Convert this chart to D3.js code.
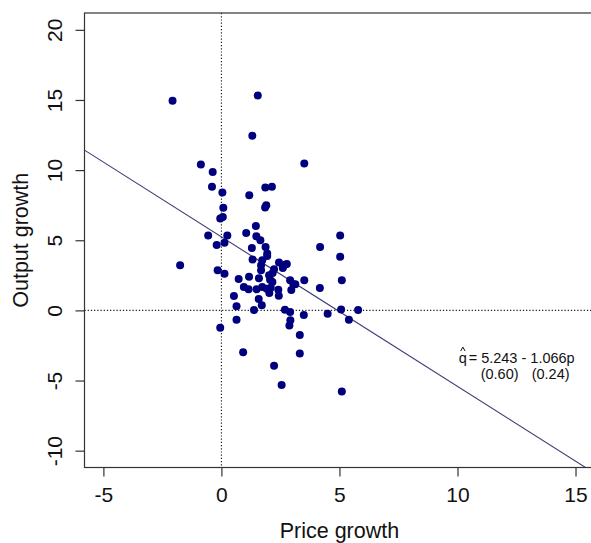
<!DOCTYPE html>
<html>
<head>
<meta charset="utf-8">
<script src="https://cdn.jsdelivr.net/npm/d3@7"></script>
<style>
  body { margin: 0; background: #fff; }
  svg { font-family: "Liberation Sans", Arial, sans-serif; }
</style>
</head>
<body>
<div id="graph"></div>
<script>
// price growth (x) and output growth (y)
let priceGrowth = [-2.07, 1.54, 1.31, 3.51, -0.87, -0.37, -0.40, 0.04, 1.18, 1.86,
  2.14, 0.08, -0.05, 0.06, 1.85, 1.90, 1.46, -0.56, 0.25, 1.05,
  1.48, 1.65, -0.20, 0.13, 1.29, 1.87, 1.94, 1.94, 5.03, 4.18,
  5.03, 1.32, 1.73, 1.68, 2.44, 2.69, 2.77, 2.60, -1.75, -0.16,
  0.13, 1.68, 2.23, 2.17, 0.73, 1.17, 1.59, 2.02, 2.06, 2.16,
  2.91, 3.05, 3.13, 3.51, 4.17, 5.10, 0.95, 1.15, 1.49, 1.73,
  1.92, 2.09, 2.03, 2.41, 2.43, 2.96, 0.53, 1.58, 0.64, 1.71,
  1.38, 2.69, 2.91, 3.49, 4.50, 5.07, 5.79, 5.40, 0.64, 2.92,
  2.88, -0.05, 3.32, 0.92, 3.32, 2.23, 2.55, 5.10];

let outputGrowth = [14.95, 15.31, 12.45, 10.48, 10.40, 9.86, 8.81, 8.41, 8.21, 8.76,
  8.81, 7.31, 6.55, 6.65, 7.34, 7.50, 6.02, 5.33, 5.33, 5.52,
  5.29, 5.00, 4.67, 4.83, 4.45, 4.52, 4.05, 3.88, 5.33, 4.52,
  3.83, 3.62, 3.57, 3.21, 3.41, 3.26, 3.31, 3.02, 3.21, 2.86,
  2.62, 2.86, 2.93, 2.67, 2.24, 2.40, 2.29, 2.50, 2.19, 2.02,
  2.14, 1.86, 1.86, 2.14, 1.59, 2.14, 1.66, 1.50, 1.50, 1.66,
  1.55, 1.62, 1.24, 1.48, 1.05, 1.45, 1.02, 0.81, 0.29, 0.36,
  0.02, 0.05, -0.12, -0.33, -0.24, 0.07, 0.02, -0.67, -0.67, -0.71,
  -1.07, -1.24, -1.76, -2.98, -3.07, -3.95, -5.31, -5.79];

let xTicks = [-5, 0, 5, 10, 15];
let yTicks = [-10, -5, 0, 5, 10, 15, 20];

// fitted line q = a + b p
let intercept = 5.243;
let slope = -1.066;
let eqLine1 = '= 5.243 - 1.066p';
let eqSe = ['(0.60)', '(0.24)'];

let width = 591, height = 543;
let plot = { left: 84.5, right: 594.4, top: 13, bottom: 467.5 };
let font = '"Liberation Sans", Arial, sans-serif';

let svg = d3.select('#graph')
  .append('svg')
  .attr('width', width)
  .attr('height', height);

// R style limits: xlim c(-5,15), ylim c(-10,20) with 4% padding
let x = d3.scaleLinear()
  .domain([-5.8, 15.8])
  .range([plot.left, plot.right]);

let y = d3.scaleLinear()
  .domain([-11.2, 21.2])
  .range([plot.bottom, plot.top]);

svg.append('defs').append('clipPath')
  .attr('id', 'clip')
  .append('rect')
  .attr('x', plot.left)
  .attr('y', plot.top)
  .attr('width', plot.right - plot.left)
  .attr('height', plot.bottom - plot.top);

let inner = svg.append('g').attr('clip-path', 'url(#clip)');

// dotted reference lines at zero
inner.append('line')
  .attr('x1', x(0)).attr('x2', x(0))
  .attr('y1', plot.top).attr('y2', plot.bottom)
  .attr('stroke', '#111')
  .attr('stroke-width', 1.1)
  .attr('stroke-dasharray', '1.2,2');

inner.append('line')
  .attr('x1', plot.left).attr('x2', plot.right)
  .attr('y1', y(0)).attr('y2', y(0))
  .attr('stroke', '#111')
  .attr('stroke-width', 1.1)
  .attr('stroke-dasharray', '1.2,2');

// regression line across the plot
let xs = x.domain();
inner.append('line')
  .attr('x1', x(xs[0])).attr('y1', y(intercept + slope * xs[0]))
  .attr('x2', x(xs[1])).attr('y2', y(intercept + slope * xs[1]))
  .attr('stroke', '#3c3c78')
  .attr('stroke-width', 1.1);

let points = priceGrowth.map((p, i) => ({ p: p, q: outputGrowth[i] }));

inner.selectAll('circle')
  .data(points)
  .enter()
  .append('circle')
  .attr('cx', d => x(d.p))
  .attr('cy', d => y(d.q))
  .attr('r', 4)
  .attr('fill', '#00007f');

// box
svg.append('rect')
  .attr('x', plot.left)
  .attr('y', plot.top)
  .attr('width', plot.right - plot.left)
  .attr('height', plot.bottom - plot.top)
  .attr('fill', 'none')
  .attr('stroke', '#333')
  .attr('stroke-width', 1.2);

let xAxis = svg.append('g')
  .attr('transform', `translate(0, ${plot.bottom})`)
  .call(d3.axisBottom(x).tickValues(xTicks).tickSize(9).tickFormat(d => String(d)));

xAxis.select('.domain').remove();
xAxis.selectAll('line').attr('stroke', '#333').attr('stroke-width', 1.2);
xAxis.selectAll('text')
  .attr('y', 34)
  .attr('dy', 0)
  .attr('fill', '#111')
  .style('font-size', '21px')
  .style('font-family', font);

let yAxis = svg.append('g')
  .attr('transform', `translate(${plot.left}, 0)`)
  .call(d3.axisLeft(y).tickValues(yTicks).tickSize(9).tickFormat(d => String(d)));

yAxis.select('.domain').remove();
yAxis.selectAll('line').attr('stroke', '#333').attr('stroke-width', 1.2);
yAxis.selectAll('text')
  .attr('transform', 'rotate(-90)')
  .attr('x', 0)
  .attr('y', -22.5)
  .attr('dy', 0)
  .attr('fill', '#111')
  .style('text-anchor', 'middle')
  .style('font-size', '21px')
  .style('font-family', font);

// axis titles
svg.append('text')
  .attr('x', (plot.left + plot.right) / 2)
  .attr('y', 538)
  .style('text-anchor', 'middle')
  .style('font-size', '21.5px')
  .attr('fill', '#111')
  .text('Price growth');

svg.append('text')
  .attr('transform', `translate(28, ${(plot.top + plot.bottom) / 2}) rotate(-90)`)
  .style('text-anchor', 'middle')
  .style('font-size', '21.5px')
  .attr('fill', '#111')
  .text('Output growth');

// equation annotation
let eqX = x(10.05), eqY = y(-3.72);
let eq = svg.append('g').attr('fill', '#111').style('font-size', '14.5px');

eq.append('text')
  .attr('x', eqX)
  .attr('y', eqY)
  .text('q');

// hat over q
eq.append('path')
  .attr('d', `M${eqX + 2},${eqY - 11.5} L${eqX + 4.2},${eqY - 15.5} L${eqX + 6.4},${eqY - 11.5}`)
  .attr('fill', 'none')
  .attr('stroke', '#111')
  .attr('stroke-width', 1);

eq.append('text')
  .attr('x', eqX + 10)
  .attr('y', eqY)
  .text(eqLine1);

eq.append('text')
  .attr('x', eqX + 22)
  .attr('y', eqY + 16.5)
  .text(eqSe[0]);

eq.append('text')
  .attr('x', eqX + 73)
  .attr('y', eqY + 16.5)
  .text(eqSe[1]);
</script>
</body>
</html>
